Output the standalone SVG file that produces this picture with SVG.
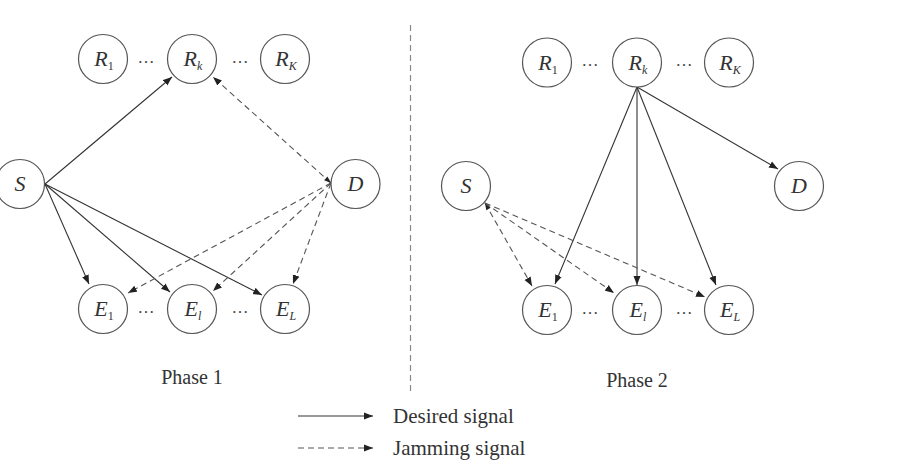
<svg xmlns="http://www.w3.org/2000/svg" width="905" height="471" viewBox="0 0 905 471">
<style>
.node circle{fill:#fff;stroke:#555;stroke-width:1.2}
.lbl{font-family:"Liberation Serif","Times New Roman",serif;font-style:italic;font-size:22px;fill:#333;text-anchor:middle}
.sub{font-size:12px}
.up{font-style:normal}
.dots{font-family:"Liberation Serif",serif;font-size:17px;fill:#444;text-anchor:middle}
.cap{font-family:"Liberation Serif","Times New Roman",serif;font-size:20px;fill:#333}
.leg{font-size:21px}
.s{stroke:#333;stroke-width:1.1;fill:none;marker-end:url(#ah)}
.d{stroke:#555;stroke-width:1.1;fill:none;stroke-dasharray:6 4;marker-end:url(#ah)}
</style>
<defs>
<marker id="ah" markerWidth="10" markerHeight="8" refX="9" refY="4" orient="auto" markerUnits="userSpaceOnUse">
<path d="M0,0.5 L9,4 L0,7.5 Z" fill="#222"/>
</marker>
<marker id="as" markerWidth="8" markerHeight="6" refX="0" refY="3" orient="auto" markerUnits="userSpaceOnUse">
<path d="M7,0.5 L0,3 L7,5.5 Z" fill="#222"/>
</marker>
</defs>
<rect width="905" height="471" fill="#fff"/>

<g id="connectors">
<!-- Phase 1 -->
<line class="s" x1="45" y1="184" x2="172" y2="77"/>
<line class="s" x1="45" y1="184" x2="89" y2="284"/>
<line class="s" x1="45" y1="184" x2="170" y2="292"/>
<line class="s" x1="45" y1="184" x2="262" y2="295"/>
<line class="d" x1="331" y1="183" x2="213" y2="77" style="marker-start:url(#as)"/>
<line class="d" x1="331" y1="183" x2="128" y2="293"/>
<line class="d" x1="331" y1="183" x2="213" y2="291"/>
<line class="d" x1="331" y1="183" x2="293" y2="284"/>
<!-- Phase 2 -->
<line class="s" x1="637" y1="87" x2="778" y2="169"/>
<line class="s" x1="637" y1="87" x2="555" y2="284"/>
<line class="s" x1="637" y1="87" x2="637" y2="285"/>
<line class="s" x1="637" y1="87" x2="716" y2="285"/>
<line class="d" x1="485" y1="203" x2="532" y2="286" style="marker-start:url(#as)"/>
<line class="d" x1="485" y1="203" x2="614" y2="293"/>
<line class="d" x1="485" y1="203" x2="705" y2="297"/>
<!-- separator -->
<line x1="410.5" y1="25" x2="410.5" y2="392" stroke="#888" stroke-width="1.2" stroke-dasharray="6 4"/>
<!-- legend -->
<line class="s" x1="298" y1="416" x2="373" y2="416"/>
<line class="d" x1="298" y1="448" x2="373" y2="448"/>
</g>

<!-- Phase 1 nodes -->
<g id="p1-R1" class="node"><circle cx="103" cy="59" r="24.5"/><text class="lbl" x="104" y="66">R<tspan class="sub up" dy="4">1</tspan></text></g>
<g id="p1-Rk" class="node"><circle cx="192" cy="59" r="24.5"/><text class="lbl" x="193" y="66">R<tspan class="sub" dy="4">k</tspan></text></g>
<g id="p1-RK" class="node"><circle cx="285" cy="59" r="24.5"/><text class="lbl" x="286" y="66">R<tspan class="sub" dy="4">K</tspan></text></g>
<g id="p1-S" class="node"><circle cx="20" cy="184" r="24.5"/><text class="lbl" x="20" y="191">S</text></g>
<g id="p1-D" class="node"><circle cx="355.5" cy="184" r="24.5"/><text class="lbl" x="355.5" y="191">D</text></g>
<g id="p1-E1" class="node"><circle cx="103" cy="309" r="24.5"/><text class="lbl" x="104" y="316">E<tspan class="sub up" dy="4">1</tspan></text></g>
<g id="p1-El" class="node"><circle cx="192" cy="309" r="24.5"/><text class="lbl" x="193" y="316">E<tspan class="sub" dy="4">l</tspan></text></g>
<g id="p1-EL" class="node"><circle cx="285" cy="309" r="24.5"/><text class="lbl" x="286" y="316">E<tspan class="sub" dy="4">L</tspan></text></g>
<g id="p1-dots">
<text class="dots" x="146" y="63">…</text><text class="dots" x="240" y="63">…</text>
<text class="dots" x="146" y="313">…</text><text class="dots" x="240" y="313">…</text>
</g>
<text class="cap" x="192" y="384" text-anchor="middle">Phase 1</text>

<!-- Phase 2 nodes -->
<g id="p2-R1" class="node"><circle cx="547" cy="62.5" r="24.5"/><text class="lbl" x="548" y="69.5">R<tspan class="sub up" dy="4">1</tspan></text></g>
<g id="p2-Rk" class="node"><circle cx="637" cy="62.5" r="24.5"/><text class="lbl" x="638" y="69.5">R<tspan class="sub" dy="4">k</tspan></text></g>
<g id="p2-RK" class="node"><circle cx="729" cy="62.5" r="24.5"/><text class="lbl" x="730" y="69.5">R<tspan class="sub" dy="4">K</tspan></text></g>
<g id="p2-S" class="node"><circle cx="466" cy="186" r="24.5"/><text class="lbl" x="466" y="193">S</text></g>
<g id="p2-D" class="node"><circle cx="799" cy="186" r="24.5"/><text class="lbl" x="799" y="193">D</text></g>
<g id="p2-E1" class="node"><circle cx="547" cy="310" r="24.5"/><text class="lbl" x="548" y="317">E<tspan class="sub up" dy="4">1</tspan></text></g>
<g id="p2-El" class="node"><circle cx="637" cy="310" r="24.5"/><text class="lbl" x="638" y="317">E<tspan class="sub" dy="4">l</tspan></text></g>
<g id="p2-EL" class="node"><circle cx="729" cy="310" r="24.5"/><text class="lbl" x="730" y="317">E<tspan class="sub" dy="4">L</tspan></text></g>
<g id="p2-dots">
<text class="dots" x="590" y="66">…</text><text class="dots" x="684" y="66">…</text>
<text class="dots" x="590" y="314">…</text><text class="dots" x="684" y="314">…</text>
</g>
<text class="cap" x="637" y="387" text-anchor="middle">Phase 2</text>

<g id="legend">
<text class="cap leg" x="393" y="423">Desired signal</text>
<text class="cap leg" x="393" y="455">Jamming signal</text>
</g>
</svg>
